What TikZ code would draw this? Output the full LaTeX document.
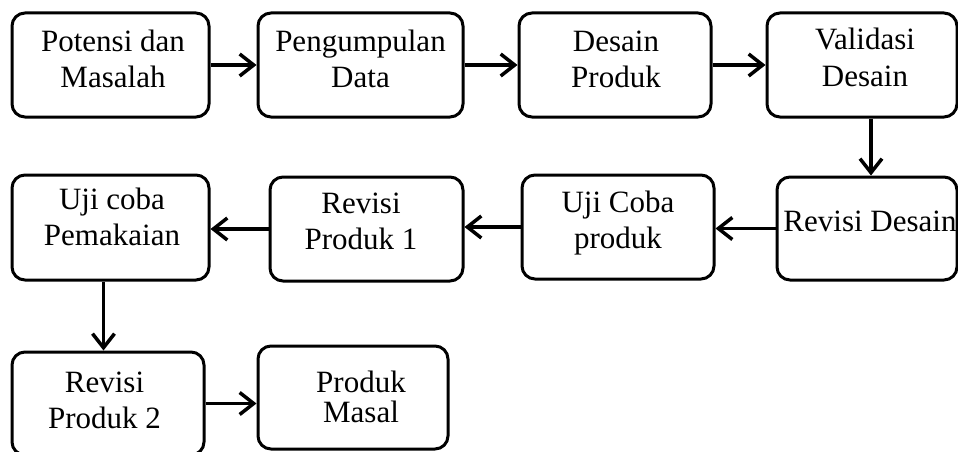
\documentclass[tikz,border=0pt]{standalone}
\usepackage{fontspec}
\setmainfont{Liberation Serif}
\usetikzlibrary{arrows.meta,calc}
\tikzset{
  box/.style={draw=black, line width=3pt, rounded corners=13pt, inner sep=0pt},
  txt/.style={inner sep=0pt, anchor=base, font=\fontsize{31}{36}\selectfont},
  arr/.style={line width=3.5pt, -{Straight Barb[length=14pt,width=22pt]}}
}
\newcommand{\tl}[1]{\begin{tabular}[t]{@{}c@{}}#1\end{tabular}}
\begin{document}
\begin{tikzpicture}[x=1pt,y=-1pt]
\useasboundingbox (0,0) rectangle (958,452);
% boxes
\node[box, minimum width=197pt, minimum height=104pt] (b1) at (110.5,65) {};
\node[box, minimum width=205pt, minimum height=104pt] (b2) at (360.5,65) {};
\node[box, minimum width=192pt, minimum height=104pt] (b3) at (615,65) {};
\node[box, minimum width=190pt, minimum height=104pt] (b4) at (862,65) {};
\node[box, minimum width=180pt, minimum height=103pt] (b5) at (867,228.5) {};
\node[box, minimum width=192pt, minimum height=104pt] (b6) at (618,227) {};
\node[box, minimum width=193pt, minimum height=104pt] (b7) at (366.5,229) {};
\node[box, minimum width=197pt, minimum height=105pt] (b8) at (110.5,227.5) {};
\node[box, minimum width=192pt, minimum height=103pt] (b9) at (108,403.5) {};
\node[box, minimum width=190pt, minimum height=103pt] (b10) at (353,397.5) {};
% texts
\node[txt] (t1) at (113,52) {\tl{Potensi dan\\Masalah}};
\node[txt] (t2) at (360.5,52) {\tl{Pengumpulan\\Data}};
\node[txt] (t3) at (616,52) {\tl{Desain\\Produk}};
\node[txt] (t4) at (865,50) {\tl{Validasi\\Desain}};
\node[txt] (t5) at (870,231) {Revisi Desain};
\node[txt] (t6) at (618,212) {\tl{Uji Coba\\produk}};
\node[txt] (t7) at (361,213) {\tl{Revisi\\Produk 1}};
\node[txt] (t8) at (112,209) {\tl{Uji coba\\Pemakaian}};
\node[txt] (t9) at (104.5,392) {\tl{Revisi\\Produk 2}};
\node[txt] (t10) at (361,392) {\tl{Produk\\[-6pt]Masal}};
% connectors
\draw[arr] (b1.east) -- (b2.west);
\draw[arr] (b2.east) -- (b3.west);
\draw[arr] (b3.east) -- (b4.west);
\draw[arr] ([xshift=9pt]b4.south) -- ([xshift=9pt]b4.south |- b5.north);
\draw[arr] (b5.west) -- (b5.west -| b6.east);
\draw[arr] (b6.west) -- (b6.west -| b7.east);
\draw[arr] (b7.west) -- (b7.west -| b8.east);
\draw[arr] ([xshift=-7pt]b8.south) -- ([xshift=-7pt]b8.south |- b9.north);
\draw[arr] (b9.east) -- (b9.east -| b10.west);
\end{tikzpicture}
\end{document}
